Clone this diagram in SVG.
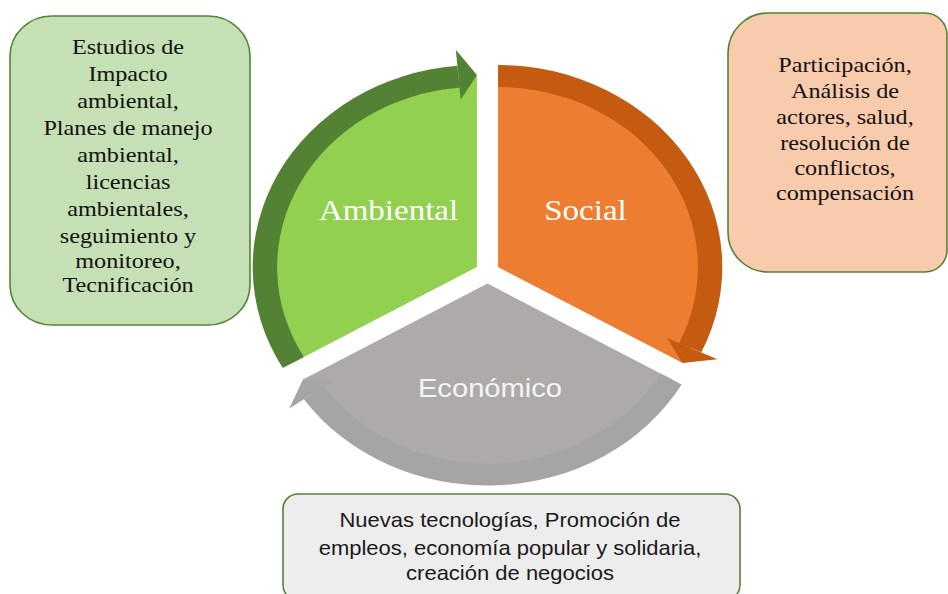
<svg xmlns="http://www.w3.org/2000/svg" xmlns:xlink="http://www.w3.org/1999/xlink" width="948" height="594" viewBox="0 0 948 594">
<style>
.box{stroke:#548235;stroke-width:1.6}
.serif{font-family:"Liberation Serif","Times New Roman",serif;fill:#111;font-size:22px;text-anchor:middle}
.serif2{font-family:"Liberation Serif","Times New Roman",serif;fill:#111;font-size:21px;text-anchor:middle}
.sans{font-family:"Liberation Sans",Arial,sans-serif;fill:#1a1a1a;font-size:20px;text-anchor:middle}
.lab{font-family:"Liberation Serif","Times New Roman",serif;fill:#fff;font-size:30px;text-anchor:middle}
.labs{font-family:"Liberation Sans",Arial,sans-serif;fill:#f4f4f4;font-size:26.5px;text-anchor:middle}
</style>
<defs>
<path id="sector" d="M0,0 L0,-192 A192,192 0 0 0 -166.28,96 Z"/>
<path id="band" d="M-174.94,101 A202,202 0 0 1 -17.61,-201.23 L-15.69,-179.31 A180,180 0 0 0 -155.88,90 Z"/>
<polygon id="head" points="-19,-217.17 0,-192 -14.64,-167.36"/>
</defs>
<rect width="948" height="594" fill="#fff"/>

<g id="node-ambiental">
<use xlink:href="#sector" fill="#92D050" transform="translate(487.5,272.5) scale(1.11,1) rotate(0) translate(-9.53,-5.5)"/>
</g>
<g id="node-social">
<use xlink:href="#sector" fill="#ED7D31" transform="translate(487.5,272.5) scale(1.11,1) rotate(120) translate(-9.53,-5.5)"/>
</g>
<g id="node-economico">
<use xlink:href="#sector" fill="#AEAAAA" transform="translate(487.5,272.5) scale(1.11,1) rotate(240) translate(-9.53,-5.5)"/>
</g>

<g id="connectors">
<g fill="#548235" transform="translate(487.5,272.5) scale(1.11,1) rotate(0) translate(-9.53,-5.5)">
<use xlink:href="#band"/><use xlink:href="#head"/>
</g>
<g fill="#C55A11" transform="translate(487.5,272.5) scale(1.11,1) rotate(120) translate(-9.53,-5.5)">
<use xlink:href="#band"/><use xlink:href="#head"/>
</g>
<g fill="#A5A5A5" transform="translate(487.5,272.5) scale(1.11,1) rotate(240) translate(-9.53,-5.5)">
<use xlink:href="#band"/><use xlink:href="#head"/>
</g>
</g>

<g id="labels">
<text class="lab" transform="translate(388.5,220) scale(1.1,1)">Ambiental</text>
<text class="lab" transform="translate(585.5,220) scale(1.1,1)">Social</text>
<text class="labs" transform="translate(490,397) scale(1.1,1)">Económico</text>
</g>

<g id="box-ambiental">
<rect class="box" x="10" y="16" width="240" height="309" rx="42" ry="40" fill="#C5E0B4"/>
<g transform="translate(128,0) scale(1.1,1)">
<text class="serif" x="0" y="54">Estudios de</text>
<text class="serif" x="0" y="81">Impacto</text>
<text class="serif" x="0" y="108">ambiental,</text>
<text class="serif" x="0" y="135">Planes de manejo</text>
<text class="serif" x="0" y="162">ambiental,</text>
<text class="serif" x="0" y="189">licencias</text>
<text class="serif" x="0" y="216">ambientales,</text>
<text class="serif" x="0" y="243">seguimiento y</text>
<text class="serif" x="0" y="268">monitoreo,</text>
<text class="serif" x="0" y="292">Tecnificación</text>
</g>
</g>

<g id="box-social">
<path class="box" fill="#F8CBAD" d="M768,13 H925 A22,22 0 0 1 947,35 V250 A22,22 0 0 1 925,272 H768 A40,40 0 0 1 728,232 V53 A40,40 0 0 1 768,13 Z"/>
<g transform="translate(845,0) scale(1.15,1)">
<text class="serif2" x="0" y="72">Participación,</text>
<text class="serif2" x="0" y="98">Análisis de</text>
<text class="serif2" x="0" y="124">actores, salud,</text>
<text class="serif2" x="0" y="150">resolución de</text>
<text class="serif2" x="0" y="175">conflictos,</text>
<text class="serif2" x="0" y="200">compensación</text>
</g>
</g>

<g id="box-economico">
<rect class="box" x="283" y="494" width="457" height="106" rx="15" ry="15" fill="#EDEDED"/>
<g transform="translate(510,0) scale(1.1,1)">
<text class="sans" x="0" y="527">Nuevas tecnologías, Promoción de</text>
<text class="sans" x="0" y="555">empleos, economía popular y solidaria,</text>
<text class="sans" x="0" y="580">creación de negocios</text>
</g>
</g>
</svg>
